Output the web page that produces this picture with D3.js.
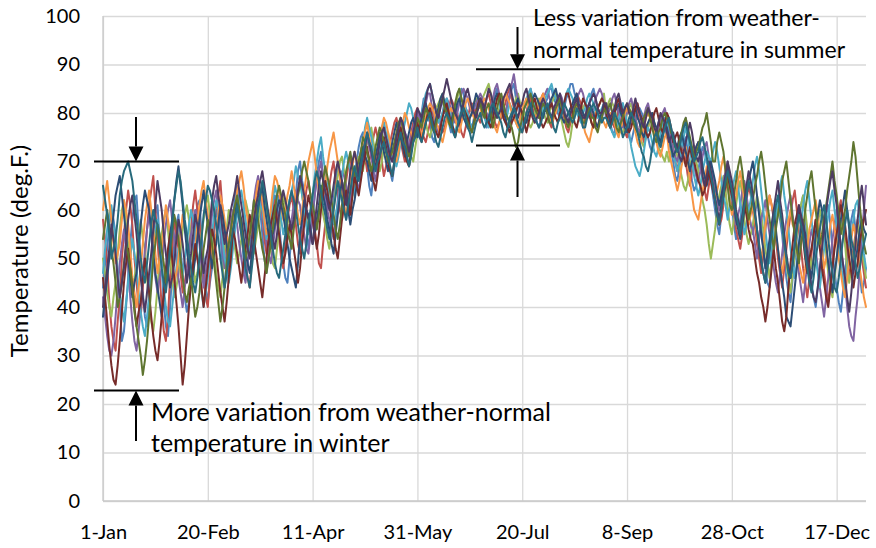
<!DOCTYPE html>
<html><head><meta charset="utf-8">
<script src="https://cdn.jsdelivr.net/npm/d3@7"></script>
<style>body{margin:0;background:#fff}svg{display:block}text{font-family:Lato,"Open Sans",sans-serif;fill:#000}</style>
</head><body><svg id="c" width="876" height="548"></svg>
<script>
// daily mean temperature, day-of-year 1..365, one array per year
const firstDay = 1;
const seriesColors = ["#4F81BD","#C0504D","#9BBB59","#8064A2","#4BACC6","#F79646","#2C4D75","#772C2A","#5F7530","#4D3B62","#276A7C"];
const s1 = [44,49,52,57,60,58,55,47,41,33, 35,40,46,53,58,62,63,56,50,43, 38,36,42,49,55,59,61,54,48,41, 36,34,40,47,53,57,59,52,47,42,
 39,41,45,52,57,61,62,55,50,44, 41,45,48,55,60,58,55,49,44,47, 50,55,58,63,65,60,57,50,46,49, 52,57,61,64,66,60,55,50,47,51, 54,59,63,61,58,52,49,46,45,50,
 55,60,63,68,70,66,64,57,52,55, 58,63,67,70,72,66,61,57,55,59, 62,66,69,67,66,61,58,61,64,66, 67,70,73,75,76,72,69,65,63,67, 70,73,75,77,78,74,71,68,66,69, 72,75,77,76,74,71,69,72,75,77,
 77,79,80,83,82,79,78,75,74,77, 79,82,83,80,81,78,76,78,79,81, 82,85,84,81,80,78,77,79,81,83, 83,81,80,77,78,81,82,84,85,82, 81,79,79,82,83,85,86,83,82,80, 78,77,80,82,84,82,81,78,77,79,
 80,82,83,85,85,83,82,80,79,82, 81,83,84,86,86,84,83,81,80,77, 78,80,82,84,85,83,81,80,79,81, 81,79,78,76,76,79,80,81,82,79, 77,75,74,76,78,80,81,80,79,77, 75,73,72,74,76,78,79,78,77,75,
 74,72,70,67,66,69,72,74,75,72, 69,66,64,65,68,71,73,72,70,68, 66,63,60,57,55,59,63,66,68,64, 61,57,54,55,58,61,64,62,59,57, 55,59,62,60,57,52,48,45,44,49, 52,57,60,58,55,50,46,43,41,46,
 50,54,58,61,63,59,54,49,45,42, 40,44,48,52,56,59,61,57,52,47, 44,41,39,43,47,51,55,58,60,56, 51,47,43,45,48];
const s2 = [58,54,49,41,36,33,31,37,42,50, 55,60,64,61,57,50,45,40,38,44, 50,56,61,64,67,60,54,47,40,35, 33,38,46,52,58,55,52,47,43,45,
 48,52,56,61,64,60,58,51,46,42, 40,46,52,57,61,63,66,60,55,50, 47,50,53,57,60,58,55,52,49,46, 44,50,56,61,64,62,59,54,51,54, 57,60,62,58,54,50,48,53,58,61,
 63,60,57,53,51,56,60,64,66,63, 61,56,53,49,48,53,57,61,65,68, 70,66,63,60,58,62,66,69,71,67, 64,67,70,72,74,71,68,70,72,75, 77,75,73,70,67,69,71,74,76,78, 79,77,74,72,70,71,73,76,78,80,
 81,79,77,75,74,76,78,80,82,81, 80,78,76,77,79,81,83,82,81,80, 78,76,75,77,79,81,82,81,80,79, 78,80,81,83,84,82,80,78,77,78, 79,81,82,84,85,83,81,79,78,77, 76,78,80,82,83,81,79,80,82,83,
 84,82,80,78,77,79,81,82,83,81, 79,77,76,78,80,82,84,83,82,80, 78,80,81,80,79,78,77,79,80,82, 82,80,79,78,77,79,81,80,78,76, 75,77,79,81,82,80,78,76,74,75, 77,79,80,78,76,74,73,75,78,77,
 76,74,72,70,68,71,73,72,70,67, 65,68,71,73,74,71,67,64,62,65, 68,66,63,60,57,58,61,64,67,65, 62,59,56,54,52,55,59,62,65,63, 60,57,53,50,47,51,56,60,63,61, 58,54,50,47,44,48,52,56,59,62,
 64,60,56,52,48,45,42,46,51,55, 58,56,55,51,47,44,41,45,49,53, 57,60,62,58,54,50,46,49,52,55, 58,54,50,47,44];
const s3 = [50,47,43,40,38,42,45,51,56,60, 62,57,53,48,44,46,49,55,58,54, 52,46,41,37,35,39,44,50,55,58, 60,56,51,46,42,44,47,52,56,59,
 61,58,54,49,45,47,50,55,58,61, 63,59,55,51,47,44,42,46,52,56, 60,58,56,52,49,51,54,58,62,60, 58,54,51,54,57,61,64,62,60,56, 52,49,48,52,56,60,63,61,59,57,
 54,58,61,64,66,63,60,58,56,59, 63,66,68,65,62,59,57,54,52,56, 60,64,67,70,71,68,65,62,60,63, 66,69,71,69,68,71,74,76,77,74, 72,70,68,70,73,75,76,73,71,73, 74,77,79,77,75,73,72,71,70,73,
 76,78,80,79,78,76,75,77,79,81, 82,83,84,82,80,78,77,79,81,83, 85,83,82,80,78,79,80,82,83,81, 81,83,84,85,86,84,82,80,79,81, 83,81,80,79,78,80,81,83,84,82, 82,80,79,78,77,78,80,82,83,82,
 81,79,78,80,82,83,84,82,80,78, 76,74,73,75,78,80,81,80,79,81, 82,81,80,78,77,79,81,82,83,84, 80,82,83,82,81,79,77,76,76,78, 80,81,82,80,79,77,76,74,73,75, 77,79,80,78,75,73,72,71,70,72,
 70,72,74,73,71,69,67,65,64,66, 69,71,73,70,68,65,62,60,57,53, 50,53,56,60,63,65,67,64,60,57, 55,58,61,64,66,63,58,55,53,55, 57,60,63,61,59,56,52,49,46,50, 54,58,61,59,57,53,49,46,43,47,
 51,55,59,61,63,60,56,52,48,50, 53,57,60,58,55,51,47,44,42,46, 50,54,58,55,53,48,45,48,51,54, 57,54,52,49,46];
const s4 = [42,38,34,31,30,33,38,44,49,53, 56,52,48,42,37,33,31,35,40,46, 52,56,59,55,50,46,43,46,48,53, 57,60,62,58,54,50,46,43,40,44,
 47,51,55,58,60,57,53,48,44,47, 50,55,59,62,64,60,57,52,48,51, 53,57,60,59,57,53,50,47,45,49, 54,58,62,65,67,63,60,56,53,51, 49,52,56,60,63,61,60,57,54,56,
 58,61,64,62,61,57,55,52,51,55, 59,63,66,68,70,67,64,60,58,56, 54,58,62,66,68,67,65,63,61,65, 68,66,64,67,70,73,75,73,71,68, 66,69,72,75,77,75,74,72,70,71, 73,76,78,77,76,75,73,75,77,78,
 80,79,78,80,82,84,84,81,79,77, 76,78,80,82,83,82,81,79,78,80, 82,84,85,84,83,81,80,81,82,83, 84,83,81,80,79,81,83,85,86,84, 82,81,80,82,84,86,88,85,83,81, 80,81,82,84,85,83,81,80,79,81,
 83,84,85,83,82,81,80,82,84,83, 81,79,78,80,81,82,83,84,85,84, 82,80,79,80,81,83,84,85,84,82, 79,80,81,83,84,82,80,78,77,79, 80,82,83,81,79,77,76,78,79,81, 82,80,78,76,75,77,79,80,81,79,
 77,75,73,71,70,72,75,77,79,76, 74,71,69,67,66,68,71,73,74,71, 69,67,64,62,60,63,66,68,70,66, 63,60,57,59,61,64,66,63,60,57, 56,53,50,54,58,60,62,58,55,51, 48,45,43,47,51,55,58,61,63,59,
 56,52,47,44,41,45,49,53,56,54, 52,48,44,41,38,42,46,50,54,57, 60,56,53,49,45,40,36,34,33,38, 42,48,55,60,65];
const s5 = [47,52,56,59,61,57,52,47,43,40, 37,41,45,50,54,51,48,43,39,36, 34,38,42,47,53,56,58,53,49,44, 40,37,36,40,44,48,52,49,47,50,
 53,57,60,58,56,51,47,43,40,43, 46,50,55,59,62,60,58,54,50,48, 45,48,52,56,59,62,64,61,58,54, 51,54,56,60,63,61,60,57,54,56, 58,62,65,63,61,58,55,57,60,62,
 64,66,69,67,66,63,60,57,55,59, 63,67,70,73,75,71,68,65,62,59, 57,59,61,64,67,70,72,70,68,66, 63,66,69,72,74,77,79,77,75,72, 70,71,73,76,78,76,75,73,71,70, 69,71,74,76,78,80,82,81,79,77,
 75,77,79,82,84,85,86,84,82,80, 78,79,80,82,83,81,79,77,76,78, 79,81,82,81,80,78,77,78,80,81, 82,80,79,78,77,79,81,83,84,82, 80,79,78,80,82,81,80,78,77,76, 79,81,83,84,85,83,82,80,79,80,
 81,83,84,85,86,84,83,81,80,81, 82,84,85,84,83,81,80,79,78,80, 81,83,84,83,82,80,79,80,81,82, 80,78,77,76,75,77,79,80,82,80, 78,76,73,71,69,68,67,69,72,75, 77,76,74,72,71,73,76,78,79,78,
 75,73,71,70,68,70,73,75,77,75, 72,70,67,65,63,65,68,70,72,71, 70,72,74,72,69,66,63,61,58,61, 64,66,68,65,61,58,55,57,60,62, 66,69,71,68,64,60,56,52,49,52, 55,59,62,65,67,63,60,56,52,49,
 46,49,53,57,61,64,66,62,58,54, 50,47,44,48,52,56,59,62,64,60, 57,53,49,46,43,47,51,55,58,61, 62,58,55,51,48];
const s6 = [60,63,66,62,58,53,49,51,53,58, 62,60,57,52,46,43,40,44,48,53, 58,61,64,60,56,51,47,50,52,57, 61,58,55,50,45,47,50,55,59,57,
 54,50,46,49,52,57,61,64,66,62, 59,55,50,52,55,59,63,61,58,55, 52,54,57,60,64,66,68,65,61,58, 55,57,59,63,66,64,62,58,55,57, 60,64,67,66,64,61,58,60,63,65,
 68,65,62,59,57,60,64,67,70,72, 74,71,67,64,61,63,65,69,72,74, 76,73,70,67,63,61,59,62,66,69, 72,70,68,71,74,76,78,75,73,71, 69,72,75,77,79,78,76,74,72,71, 70,72,75,78,80,79,77,76,74,76,
 78,77,75,77,79,81,82,81,80,78, 77,75,74,76,78,80,81,80,79,77, 76,78,80,82,83,82,80,79,78,79, 80,82,83,82,81,79,78,77,76,78, 80,82,84,83,82,80,79,78,77,79, 81,82,83,81,80,79,78,80,82,83,
 84,82,81,80,78,79,80,82,83,81, 80,78,77,79,79,81,82,80,80,78, 76,75,74,76,78,80,81,80,79,78, 77,79,80,79,78,76,75,77,78,80, 81,80,79,78,76,74,73,75,77,79, 80,79,78,76,74,72,71,73,75,76,
 72,70,68,66,64,66,69,71,73,70, 66,63,60,59,58,61,64,66,69,68, 67,65,62,64,66,69,71,68,65,62, 59,61,63,66,68,65,62,60,57,59, 61,58,55,52,50,53,57,60,63,61, 59,55,52,49,47,50,54,58,60,57,
 56,52,49,47,45,48,52,56,58,60, 62,59,55,52,48,50,53,57,59,56, 54,50,47,44,42,46,50,54,57,55, 52,48,45,42,40];
const s7 = [38,42,46,50,55,59,63,65,67,63, 59,55,50,46,42,45,47,52,57,61, 64,62,60,56,51,47,44,41,38,42, 46,50,55,58,62,66,69,65,61,56,
 52,48,44,47,50,54,58,61,64,60, 57,52,48,51,53,57,61,59,56,53, 49,52,55,59,62,60,58,55,51,49, 47,51,54,58,61,63,65,61,58,55, 52,55,57,60,62,61,59,56,53,50,
 48,46,44,49,55,58,62,60,59,56, 53,55,58,61,65,63,61,58,56,53, 51,55,59,63,66,64,63,60,57,60, 62,65,68,71,73,71,70,68,66,69, 71,73,76,74,72,70,68,71,74,76, 78,76,75,73,71,74,76,78,79,77,
 75,77,79,81,82,80,80,78,77,79, 81,83,84,82,81,79,78,80,80,82, 83,81,79,78,77,79,80,82,84,83, 82,81,80,79,78,79,81,83,84,83, 82,80,79,77,77,79,81,82,83,81, 80,78,78,80,81,83,84,83,82,80,
 79,81,80,82,83,84,85,83,81,79, 78,79,80,81,82,83,84,82,81,80, 79,81,82,81,80,78,77,79,80,82, 81,80,78,79,80,81,82,80,79,77, 76,77,79,80,81,79,78,76,75,77, 78,79,80,78,77,75,74,76,78,77,
 75,73,71,72,73,75,76,74,72,70, 68,70,71,73,74,72,69,67,65,67, 70,68,66,63,61,63,65,67,69,66, 64,61,58,56,54,57,60,63,66,68, 70,67,63,59,55,52,48,51,54,57, 60,56,52,48,45,42,38,37,36,40,
 44,48,53,56,58,55,51,48,46,50, 55,59,62,60,57,53,49,46,43,47, 50,54,58,61,64,60,56,51,47,50, 52,56,58,56,55];
const s8 = [46,42,37,32,28,25,24,28,33,39, 45,49,52,48,44,40,36,39,41,46, 50,47,43,38,34,31,29,33,38,43, 48,52,55,50,46,41,36,30,24,28,
 34,40,45,49,53,50,47,44,40,44, 48,52,56,54,51,47,43,40,37,41, 46,50,56,54,51,48,45,49,52,55, 59,57,54,51,48,45,42,46,50,54, 57,59,61,58,55,52,49,51,54,57,
 55,52,49,45,48,53,57,60,63,61, 58,55,52,55,60,63,66,64,61,58, 55,52,50,54,58,61,64,62,59,63, 67,65,63,66,69,71,73,70,68,66, 64,67,71,73,75,73,70,68,67,70, 73,75,77,75,72,70,69,72,74,76,
 78,76,74,76,78,80,81,79,77,76, 75,77,79,81,82,80,78,77,75,77, 78,80,81,80,79,77,76,78,80,82, 83,82,81,79,78,77,79,81,83,84, 81,79,78,77,76,78,79,80,82,81, 80,78,76,78,80,82,83,81,80,78,
 77,78,79,81,82,80,79,78,80,81, 82,84,84,82,80,78,77,79,81,83, 82,81,80,78,77,79,81,82,83,82, 80,78,77,79,80,82,83,81,80,78, 77,76,77,79,81,82,80,79,78,76, 75,76,78,80,81,79,77,76,78,80,
 79,77,74,75,76,74,72,71,69,71, 73,71,70,68,66,65,63,64,66,68, 66,64,62,59,57,60,63,65,67,65, 63,61,59,57,55,58,61,59,56,54, 53,50,47,45,42,40,37,40,44,48, 52,48,45,41,37,35,38,44,49,53,
 57,59,61,57,54,50,47,50,52,55, 58,55,52,48,45,42,40,44,48,52, 55,58,61,59,57,53,50,47,44,47, 49,53,56,58,60];
const s9 = [54,57,60,56,52,49,45,40,42,45, 49,53,51,48,44,39,36,33,30,26, 29,33,38,44,50,53,57,55,52,49, 45,48,51,55,59,57,54,50,46,43,
 41,44,46,42,38,40,43,48,52,55, 58,56,53,49,45,41,37,40,44,49, 53,56,59,61,63,60,56,53,50,52, 55,58,62,60,58,55,52,50,47,50, 53,56,60,63,65,63,61,59,56,54,
 52,56,60,63,65,68,70,68,66,63, 61,59,56,59,63,66,69,67,65,62, 59,56,54,57,61,64,68,70,72,69, 67,69,70,72,75,74,72,70,68,70, 73,75,77,76,74,72,70,71,72,74, 76,78,79,77,75,73,71,73,75,77,
 79,78,77,79,81,80,79,77,76,78, 80,82,83,81,80,78,77,79,82,84, 85,83,81,79,78,77,76,78,80,81, 82,80,79,81,82,80,77,79,81,83, 84,82,80,79,78,77,75,73,74,77, 79,81,82,83,84,82,81,80,79,81,
 82,81,80,78,78,80,81,82,83,81, 80,78,77,79,79,81,82,81,80,78, 78,80,81,79,79,77,76,78,79,81, 80,81,82,80,79,77,76,78,79,81, 82,81,80,78,77,76,75,77,79,80, 81,79,77,75,74,76,77,79,80,79,
 78,76,75,73,72,74,76,78,79,77, 75,73,71,72,73,75,77,78,80,77, 74,70,70,74,76,74,72,68,65,61, 60,63,66,69,71,68,64,61,58,60, 62,65,67,70,72,69,65,61,58,55, 52,56,59,62,66,68,70,66,62,58,
 55,52,49,53,56,60,63,66,68,64, 60,56,53,55,58,61,64,67,70,66, 63,59,55,57,60,64,67,70,74,71, 66,61,57,53,51];
const s10 = [40,44,48,52,57,54,51,46,42,45, 48,53,58,61,63,59,55,50,46,42, 39,43,47,51,56,61,66,63,60,55, 51,47,44,46,49,54,58,56,53,49,
 45,48,51,55,59,57,54,50,47,50, 52,57,62,65,67,63,60,56,53,55, 57,60,62,64,67,64,61,58,55,52, 50,54,58,61,63,66,68,65,62,59, 56,54,52,55,59,62,64,62,60,58,
 56,58,61,64,67,65,63,60,58,55, 53,57,61,65,68,66,64,62,60,62, 65,68,70,68,66,63,61,64,68,70, 72,70,67,69,71,73,76,74,72,70, 69,71,74,76,77,75,73,71,70,72, 75,77,79,78,76,74,72,74,76,78,
 81,80,79,81,83,85,86,84,82,80, 79,81,83,85,87,85,83,81,80,79, 78,80,82,84,85,83,81,80,79,81, 83,82,81,83,85,84,82,80,79,80, 81,83,84,85,86,84,82,80,79,81, 82,84,85,83,81,79,78,79,80,82,
 83,82,81,80,79,81,82,83,84,82, 80,79,78,80,81,82,83,81,80,79, 79,81,82,83,84,83,81,80,80,82, 82,80,79,80,81,83,84,82,80,81, 82,80,79,81,83,81,80,78,77,79, 81,80,79,77,76,78,80,79,78,76,
 74,75,76,74,73,71,70,72,74,76, 78,76,73,71,70,72,67,65,67,70, 68,65,62,60,58,61,64,67,70,68, 66,63,60,58,56,59,62,65,68,66, 63,60,56,52,49,47,45,49,52,56, 60,63,66,62,59,55,51,48,46,49,
 53,57,61,59,57,54,50,47,44,42, 41,44,48,52,57,60,63,66,68,64, 61,57,52,49,46,42,39,43,48,53, 58,62,65,61,57];
const s11 = [65,62,59,55,50,52,54,58,63,66, 68,69,70,68,66,62,58,54,50,47, 45,49,53,57,60,58,57,52,48,45, 43,47,52,57,62,65,68,66,62,58,
 55,51,48,45,43,46,50,54,59,62, 65,64,62,60,57,54,50,47,44,47, 50,53,56,58,61,58,55,52,48,46, 44,48,52,56,60,63,66,64,61,58, 55,52,49,47,46,49,52,55,59,62,
 64,62,60,57,54,52,50,53,57,60, 63,66,68,66,64,61,59,56,54,57, 60,63,66,64,62,60,58,61,64,67, 69,67,66,69,72,74,76,74,73,70, 68,70,71,73,74,72,71,69,67,70, 72,74,76,74,73,71,69,71,74,75,
 77,75,74,76,78,79,80,78,76,74, 73,75,77,79,80,79,78,76,75,77, 79,80,81,79,77,76,74,76,78,79, 80,78,77,78,79,81,82,81,80,79, 78,76,75,77,79,80,81,80,78,77, 76,78,80,81,82,80,79,78,77,78,
 80,81,82,80,79,77,76,78,79,80, 82,81,80,79,78,79,81,80,79,77, 77,79,80,81,82,81,80,79,78,79, 79,78,77,78,80,79,78,77,75,76, 77,79,80,79,78,76,74,72,71,69, 68,70,73,75,76,74,73,75,77,78,
 79,77,75,73,72,73,75,77,78,76, 74,72,70,71,72,74,75,73,71,69, 67,65,62,59,57,60,63,66,68,66, 64,61,59,57,55,58,61,63,66,64, 62,59,56,53,50,47,45,48,52,55, 58,61,63,60,57,53,50,47,46,49,
 53,56,59,57,55,51,48,45,43,46, 50,53,56,59,61,58,54,50,47,44, 43,46,50,54,57,60,57,54,52,49, 46,48,51,53,55];
const seriesValues = [s1,s2,s3,s4,s5,s6,s7,s8,s9,s10,s11];

const xTickDays = [1,51,101,151,201,251,301,351];
const xTickLabels = ["1-Jan","20-Feb","11-Apr","31-May","20-Jul","8-Sep","28-Oct","17-Dec"];
const yTicks = [0,10,20,30,40,50,60,70,80,90,100];
const yTitle = "Temperature (deg.F.)";
const noteSummer = ["Less variation from weather-","normal temperature in summer"];
const noteWinter = ["More variation from weather-normal","temperature in winter"];
const bracketSummer = [89, 73.3];
const bracketWinter = [70, 22.8];

const svg = d3.select("#c");
const L = 103, R = 866, T = 16, B = 501;
const x = d3.scaleLinear().domain([1, 365]).range([L, R]);
const y = d3.scaleLinear().domain([0, 100]).range([B, T]);

const gy = svg.append("g").attr("transform", `translate(${L},0)`)
  .call(d3.axisLeft(y).tickValues(yTicks).tickSize(-(R - L)).tickPadding(23).tickFormat(d3.format("d")));
gy.select(".domain").remove();
gy.selectAll("line").attr("stroke", "#d9d9d9").attr("stroke-width", 1.3);
gy.selectAll("text").style("font-size", "20px").style("font-family", "Lato").attr("fill", "#000");

const gx = svg.append("g").attr("transform", `translate(0,${B})`)
  .call(d3.axisBottom(x).tickValues(xTickDays).tickSize(-(B - T)).tickPadding(24).tickFormat((d, i) => xTickLabels[i]));
gx.select(".domain").remove();
gx.selectAll("line").attr("stroke", "#d9d9d9").attr("stroke-width", 1.3);
gx.selectAll("text").style("font-size", "20px").style("font-family", "Lato").attr("fill", "#000");

svg.append("line").attr("x1", L).attr("x2", L).attr("y1", T).attr("y2", B).attr("stroke", "#c9c9c9").attr("stroke-width", 1.3);
svg.append("line").attr("x1", L).attr("x2", R).attr("y1", B).attr("y2", B).attr("stroke", "#c9c9c9").attr("stroke-width", 1.3);

const line = d3.line().x((d, i) => x(firstDay + i)).y(d => y(d));
svg.append("g").selectAll("path").data(seriesValues).join("path")
  .attr("d", line).attr("fill", "none")
  .attr("stroke", (d, i) => seriesColors[i])
  .attr("stroke-width", 2).attr("stroke-linejoin", "round").attr("stroke-linecap", "round");

svg.append("text").attr("transform", "translate(28,251) rotate(-90)")
  .attr("text-anchor", "middle").style("font-size", "24px").text(yTitle);

const ann = svg.append("g").attr("stroke", "#000").attr("stroke-width", 2);
function bracket(x1, x2, yv) { ann.append("line").attr("x1", x1).attr("x2", x2).attr("y1", y(yv)).attr("y2", y(yv)); }
function arrow(xp, yFrom, yTo) {
  const dir = yTo > yFrom ? 1 : -1, head = 15, hw = 7.5;
  ann.append("line").attr("x1", xp).attr("x2", xp).attr("y1", yFrom).attr("y2", yTo - dir * head);
  svg.append("path").attr("d", `M${xp},${yTo} L${xp - hw},${yTo - dir * head} L${xp + hw},${yTo - dir * head} Z`).attr("fill", "#000");
}
bracket(476, 560, bracketSummer[0]);
bracket(476, 560, bracketSummer[1]);
arrow(517.5, 27, y(bracketSummer[0]));
arrow(517.5, 197, y(bracketSummer[1]));
bracket(94, 179, bracketWinter[0]);
bracket(94, 179, bracketWinter[1]);
arrow(136, 117, y(bracketWinter[0]));
arrow(136, 441, y(bracketWinter[1]));

svg.append("g").selectAll("text").data(noteSummer).join("text")
  .attr("x", 533).attr("y", (d, i) => 26 + i * 32).style("font-size", "23px").text(d => d);
svg.append("g").selectAll("text").data(noteWinter).join("text")
  .attr("x", 151).attr("y", (d, i) => 421 + i * 31).style("font-size", "25px").text(d => d);
</script></body></html>
